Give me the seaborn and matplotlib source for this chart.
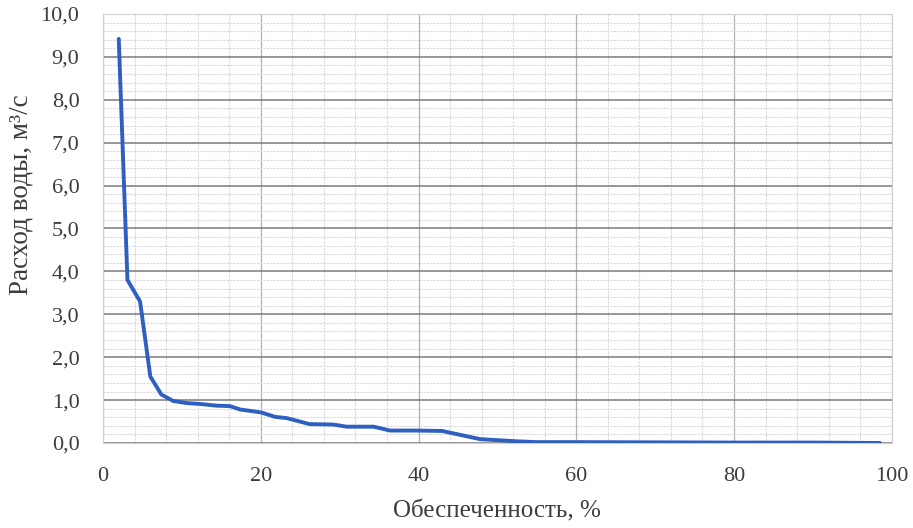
import numpy as np
import pandas as pd
import matplotlib
matplotlib.use("Agg")
import matplotlib.pyplot as plt
import seaborn as sns
from matplotlib.ticker import MultipleLocator, FuncFormatter

# обеспеченность, % и расход воды, м3/с
supply_pct = [2.0, 3.1, 4.7, 6.0, 7.4, 8.9, 10.6, 12.3, 14.4, 16.1, 17.4, 19.0,
              20.1, 21.8, 23.3, 26.2, 29.2, 30.9, 34.3, 36.4, 39.8, 43.0,
              47.8, 52.4, 55.0, 60.0, 70.0, 80.0, 90.0, 98.5]
discharge = [9.42, 3.80, 3.30, 1.55, 1.13, 0.98, 0.93, 0.91, 0.87, 0.86, 0.78, 0.74,
             0.71, 0.61, 0.58, 0.44, 0.43, 0.38, 0.38, 0.29, 0.29, 0.28,
             0.09, 0.04, 0.02, 0.02, 0.015, 0.01, 0.01, 0.0]

xlabel = "Обеспеченность, %"
ylabel = "Расход воды, м³/с"

df = pd.DataFrame({"p": supply_pct, "q": discharge})

sns.set_style("white")
plt.rcParams["font.family"] = ["Liberation Serif", "DejaVu Serif"]

fig = plt.figure(figsize=(9.13, 5.28), dpi=100)
ax = fig.add_axes([0.1128, 0.161, 0.864, 0.8125])

sns.lineplot(data=df, x="p", y="q", ax=ax, color="#2f5fc0", linewidth=2.8,
             sort=False, estimator=None, zorder=5)

ax.set_xlim(0, 100)
ax.set_ylim(0, 10)
ax.xaxis.set_major_locator(MultipleLocator(20))
ax.xaxis.set_minor_locator(MultipleLocator(4))
ax.yaxis.set_major_locator(MultipleLocator(1))
ax.yaxis.set_minor_locator(MultipleLocator(0.2))
ax.yaxis.set_major_formatter(FuncFormatter(lambda v, p: f"{v:.1f}".replace(".", ",")))

ax.grid(which="major", axis="y", color="#7a7a7a", linewidth=1.1)
ax.grid(which="major", axis="x", color="#b0b0b0", linewidth=0.9)
ax.grid(which="minor", axis="both", color="#d8d8de", linewidth=0.8, linestyle=(0, (2, 1)))

for s in ax.spines.values():
    s.set_color("#cfcfd4")
    s.set_linewidth(0.8)
    s.set_linestyle((0, (2, 1)))

txt = "#3c3c3c"
ax.tick_params(axis="both", which="both", length=0, labelsize=16, labelcolor=txt)
ax.tick_params(axis="y", pad=17)
ax.tick_params(axis="x", pad=17)

ax.set_xlabel(xlabel, fontsize=18, color=txt, labelpad=11)
ax.set_ylabel(ylabel, fontsize=19.5, color=txt)
ax.yaxis.set_label_coords(-0.088, 0.578)

fig.savefig("out.png", dpi=100, facecolor="white")
